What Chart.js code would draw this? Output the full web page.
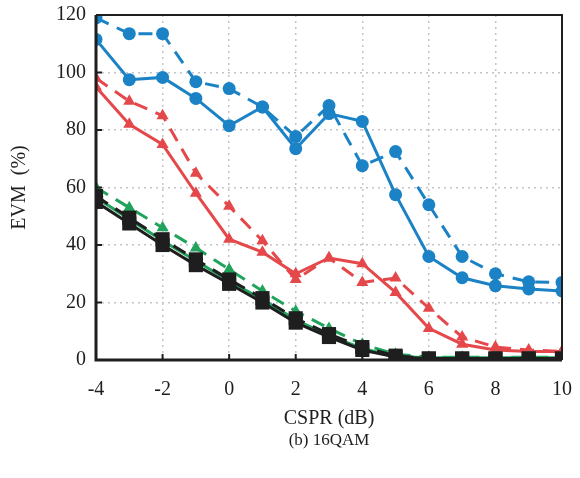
<!DOCTYPE html>
<html lang="en">
<head>
  <meta charset="UTF-8">
  <title>EVM vs CSPR - 16QAM</title>
  <script src="https://cdn.jsdelivr.net/npm/chart.js"></script>
  <style>
    body {
      margin: 0;
      padding: 0;
      background: white;
    }
    #wrap {
      width: 580px;
      height: 478px;
    }
  </style>
</head>
<body>
<div id="wrap"><canvas id="evm"></canvas></div>

<script>
const cspr = [-4, -3, -2, -1, 0, 1, 2, 3, 4, 5, 6, 7, 8, 9, 10];

const blackSolid  = [55, 47.5, 40, 33, 26.5, 20, 13, 8, 3.5, 1, 0.5, 0.5, 0.5, 0.5, 0.5];
const blackDashed = [57, 49.5, 42, 35, 28, 21.5, 14.5, 9, 4.5, 1.5, 0.5, 0.5, 0.5, 0.5, 0.5];
const greenSolid  = [56.5, 49, 41.5, 34.5, 27.5, 21, 14, 8.5, 4, 1.2, 0.8, 0.8, 0.8, 0.8, 0.8];
const greenDashed = [60, 53, 46, 39, 31.5, 24, 17, 11, 5.5, 2, 1, 1, 1, 1, 1];
const redSolid    = [95, 82, 75, 58, 42, 37.5, 30, 35.5, 33.5, 23.5, 11, 5.5, 3.5, 3, 3];
const redDashed   = [98, 90, 85, 65, 53.5, 41.5, 28, 35.5, 27, 28.5, 18, 8, 4.5, 3.5, 3];
const blueSolid   = [111.5, 97.5, 98.3, 91, 81.5, 88, 73.5, 85.7, 83, 57.5, 36, 28.6, 25.8, 24.7, 24];
const blueDashed  = [119, 113.5, 113.5, 96.8, 94.4, 88, 77.7, 88.5, 67.6, 72.5, 54, 36, 30, 27.2, 27];

const xTicks = [-4, -2, 0, 2, 4, 6, 8, 10];
const yTicks = [0, 20, 40, 60, 80, 100, 120];
const caption = '(b) 16QAM';

const BLUE = '#1b83c5';
const RED = '#e5484a';
const GREEN = '#22a35d';
const BLACK = '#1e1e1e';
const GRID = '#c4c4cc';
const DASH = [14, 9];
const serif = "'Liberation Serif', 'DejaVu Serif', serif";

function series(values, color, style, radius, dashed) {
  return {
    data: values.map((v, i) => ({ x: cspr[i], y: v })),
    borderColor: color,
    backgroundColor: color,
    borderWidth: 3,
    borderDash: dashed ? DASH : [],
    pointStyle: style,
    pointRadius: radius,
    pointBorderWidth: 0,
    tension: 0
  };
}

// frame, inward tick marks and the caption under the axis title
const framePlugin = {
  id: 'frame',
  afterDatasetsDraw(chart) {
    const { ctx, chartArea: a, scales } = chart;
    ctx.save();
    ctx.strokeStyle = BLACK;
    ctx.lineWidth = 2;
    ctx.beginPath();
    ctx.moveTo(a.left, a.top);
    ctx.lineTo(a.right, a.top);
    ctx.lineTo(a.right, a.bottom);
    ctx.stroke();
    ctx.lineWidth = 3;
    ctx.beginPath();
    ctx.moveTo(a.left, a.top);
    ctx.lineTo(a.left, a.bottom);
    ctx.lineTo(a.right, a.bottom);
    ctx.stroke();
    ctx.lineWidth = 2;
    xTicks.forEach(v => {
      const px = scales.x.getPixelForValue(v);
      ctx.beginPath();
      ctx.moveTo(px, a.bottom);
      ctx.lineTo(px, a.bottom - 6);
      ctx.stroke();
    });
    yTicks.forEach(v => {
      const py = scales.y.getPixelForValue(v);
      ctx.beginPath();
      ctx.moveTo(a.left, py);
      ctx.lineTo(a.left + 6, py);
      ctx.stroke();
    });
    ctx.fillStyle = BLACK;
    ctx.font = '17px ' + serif;
    ctx.textAlign = 'center';
    ctx.textBaseline = 'middle';
    ctx.fillText(caption, (a.left + a.right) / 2, 441);
    ctx.restore();
  }
};

new Chart(document.getElementById('evm'), {
  type: 'line',
  data: {
    datasets: [
      series(blackSolid, BLACK, 'rect', 10, false),
      series(blackDashed, BLACK, 'rect', 10, true),
      series(greenSolid, GREEN, 'triangle', 7, false),
      series(greenDashed, GREEN, 'triangle', 7, true),
      series(redSolid, RED, 'triangle', 7, false),
      series(redDashed, RED, 'triangle', 7, true),
      series(blueSolid, BLUE, 'circle', 6.5, false),
      series(blueDashed, BLUE, 'circle', 6.5, true)
    ]
  },
  options: {
    responsive: true,
    maintainAspectRatio: false,
    animation: false,
    layout: { padding: { top: 15, right: 18, left: 0, bottom: 46 } },
    plugins: {
      legend: { display: false },
      tooltip: { enabled: false }
    },
    scales: {
      x: {
        type: 'linear',
        min: -4,
        max: 10,
        afterBuildTicks: s => { s.ticks = xTicks.map(v => ({ value: v })); },
        afterFit: s => { s.height = 72; s.paddingLeft = 0; s.paddingRight = 0; },
        ticks: { color: BLACK, font: { family: serif, size: 20 }, padding: 18 },
        grid: {
          drawTicks: false,
          color: ctx => (ctx.tick && (ctx.tick.value === -4 || ctx.tick.value === 10)) ? 'transparent' : GRID,
          lineWidth: 1.5
        },
        border: { display: false, dash: [2, 4] },
        title: {
          display: true,
          text: 'CSPR (dB)',
          color: BLACK,
          font: { family: serif, size: 20 },
          padding: { top: 0, bottom: 1 }
        }
      },
      y: {
        min: 0,
        max: 120,
        afterBuildTicks: s => { s.ticks = yTicks.map(v => ({ value: v })); },
        afterFit: s => { s.width = 96; s.paddingTop = 0; s.paddingBottom = 0; },
        ticks: { color: BLACK, font: { family: serif, size: 20 }, padding: 10 },
        grid: {
          drawTicks: false,
          color: ctx => (ctx.tick && (ctx.tick.value === 0 || ctx.tick.value === 120)) ? 'transparent' : GRID,
          lineWidth: 1.5
        },
        border: { display: false, dash: [2, 4] },
        title: {
          display: true,
          text: 'EVM  (%)',
          color: BLACK,
          font: { family: serif, size: 20 },
          padding: { top: 8, bottom: 0 }
        }
      }
    }
  },
  plugins: [framePlugin]
});
</script>
</body>
</html>
